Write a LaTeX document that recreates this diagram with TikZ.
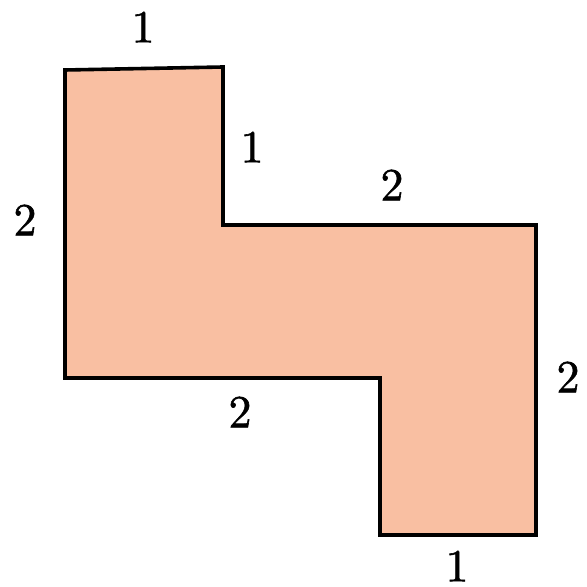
\documentclass[tikz,border=0pt]{standalone}
\usepackage{fontspec}
\newfontfamily\dg{lmroman10-regular.otf}[FakeBold=1.2]
\definecolor{salmon}{RGB}{249,191,162}
\tikzset{
  lbl/.style={font=\dg\fontsize{23}{27}\selectfont, inner sep=0pt},
  shapeline/.style={draw=black, line width=1.8pt, fill=salmon, line join=miter}
}
\begin{document}
\begin{tikzpicture}[x=0.5pt,y=-0.5pt]
\useasboundingbox (0,0) rectangle (586,587);
\coordinate (p1) at (65,70);
\coordinate (p2) at (223,67);
\coordinate (p3) at (223,225);
\coordinate (p4) at (536,225);
\coordinate (p5) at (536,535);
\coordinate (p6) at (380,535);
\coordinate (p7) at (380,378);
\coordinate (p8) at (65,378);
\path[shapeline] (p1) -- (p2) -- (p3) -- (p4) -- (p5) -- (p6) -- (p7) -- (p8) -- cycle;
\node[lbl] (l1) at (143,27) {1};
\node[lbl] (l2) at (252,147) {1};
\node[lbl] (l3) at (392,185) {2};
\node[lbl] (l4) at (25,220) {2};
\node[lbl] (l5) at (568,377) {2};
\node[lbl] (l6) at (240,412) {2};
\node[lbl] (l7) at (457,566) {1};
\end{tikzpicture}
\end{document}
